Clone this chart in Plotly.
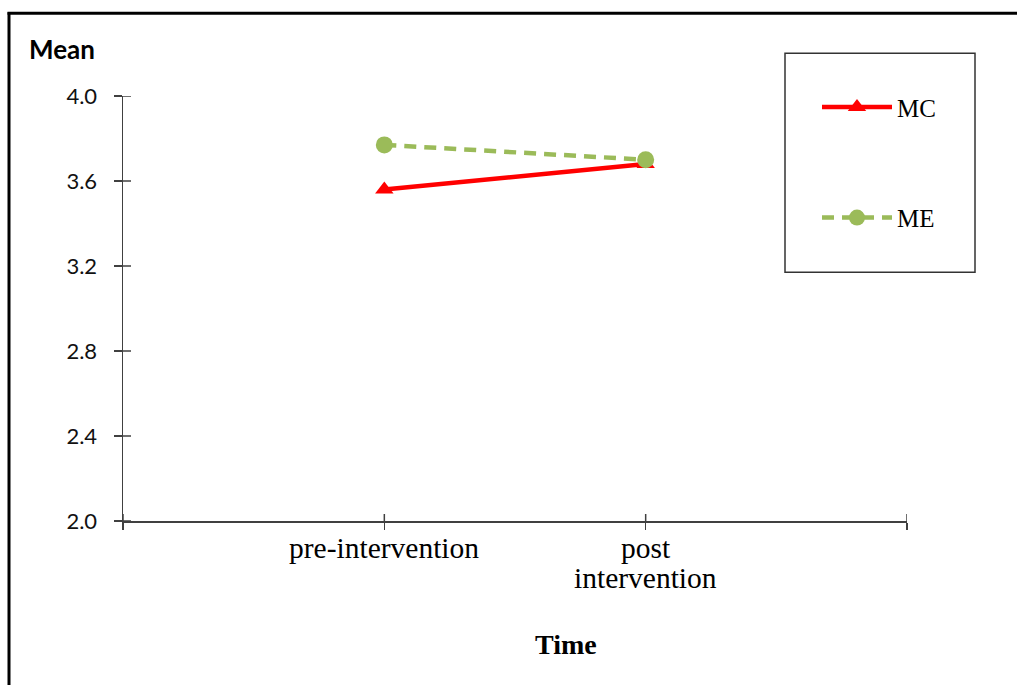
import plotly.graph_objects as go

# ---- data ----
categories = ["pre-intervention", "post<br>intervention"]
cat_pos = [1, 2]
x_tick_pos = [0, 1, 2, 3]
mc_values = [3.56, 3.68]
me_values = [3.77, 3.70]
series_names = ["MC", "ME"]
y_ticks = [2.0, 2.4, 2.8, 3.2, 3.6, 4.0]
y_tick_text = ["2.0", "2.4", "2.8", "3.2", "3.6", "4.0"]

W, H = 1017, 685
L, R = 123, 907          # plot area px
T, B = 95.7, 520.7

def px_x(p):
    return (p - L) / (R - L)

def px_y(p):
    return (B - p) / (B - T)

fig = go.Figure()

fig.add_trace(go.Scatter(
    x=cat_pos, y=mc_values, name=series_names[0], mode="lines+markers",
    line=dict(color="#FF0000", width=4.5),
    marker=dict(symbol="triangle-up", size=16, color="#FF0000"),
    legendgroup="mc",
))
fig.add_trace(go.Scatter(
    x=cat_pos, y=me_values, name=series_names[1], mode="lines+markers",
    line=dict(color="#9BBB59", width=4.5, dash="12px,8px"),
    marker=dict(symbol="circle", size=17, color="#9BBB59"),
    legendgroup="me",
))

axis_col = "#404040"
fig.update_layout(
    width=W, height=H,
    margin=dict(l=L, r=W - R, t=T, b=H - B, pad=0),
    paper_bgcolor="white", plot_bgcolor="white",
    showlegend=True,
    legend=dict(
        x=px_x(817), y=px_y(84), xanchor="left", yanchor="top",
        font=dict(family="Liberation Serif", size=25, color="black"),
        bgcolor="rgba(0,0,0,0)", borderwidth=0,
        tracegroupgap=75, itemwidth=70,
    ),
    xaxis=dict(
        range=[0, 3], tickvals=x_tick_pos, showticklabels=False,
        showgrid=False, zeroline=False, showline=True, linecolor=axis_col, linewidth=1.5,
        ticks="outside", ticklen=7, tickwidth=1.5, tickcolor=axis_col,
        fixedrange=True,
    ),
    yaxis=dict(
        range=[2.0, 4.0], tickvals=y_ticks, ticktext=y_tick_text,
        showgrid=False, zeroline=False, showline=True, linecolor=axis_col, linewidth=1.5,
        ticks="outside", ticklen=8, tickwidth=1.5, tickcolor=axis_col,
        tickfont=dict(family="Lato", size=22, color="#111111"),
        ticklabelstandoff=12, fixedrange=True,
    ),
)

# inner halves of the crossing tick marks
for yv in y_ticks:
    fig.add_shape(type="line", xref="x", yref="y", xsizemode="pixel", xanchor=0,
                  x0=0, x1=8, y0=yv, y1=yv,
                  line=dict(color=axis_col, width=1.5))
for xv in x_tick_pos:
    fig.add_shape(type="line", xref="x", yref="y", ysizemode="pixel", yanchor=2.0,
                  x0=xv, x1=xv, y0=0, y1=7,
                  line=dict(color=axis_col, width=1.5))

# category labels (tight line spacing like the original)
for pos, cat in zip(cat_pos, categories):
    for i, line in enumerate(cat.split("<br>")):
        fig.add_annotation(text=line, xref="x", yref="paper",
                           x=pos, y=px_y(548 + 29.5 * i), xanchor="center", yanchor="middle",
                           showarrow=False,
                           font=dict(family="Liberation Serif", size=29.5, color="black"))

# outer frame (left and top edges visible)
fig.add_shape(type="line", xref="paper", yref="paper",
              x0=px_x(9), x1=px_x(9), y0=px_y(12), y1=px_y(700),
              line=dict(color="black", width=3))
fig.add_shape(type="line", xref="paper", yref="paper",
              x0=px_x(7.5), x1=px_x(1030), y0=px_y(13), y1=px_y(13),
              line=dict(color="black", width=3))
# legend box
fig.add_shape(type="rect", xref="paper", yref="paper",
              x0=px_x(785), x1=px_x(975), y0=px_y(53), y1=px_y(272),
              line=dict(color="#333333", width=1.5), fillcolor="rgba(0,0,0,0)")

# texts
fig.add_annotation(text="<b>Mean</b>", xref="paper", yref="paper",
                   x=px_x(27), y=px_y(49), xanchor="left", yanchor="middle",
                   showarrow=False, font=dict(family="Lato", size=26, color="black"))
fig.add_annotation(text="<b>Time</b>", xref="paper", yref="paper",
                   x=px_x(566), y=px_y(644), xanchor="center", yanchor="middle",
                   showarrow=False, font=dict(family="Liberation Serif", size=28, color="black"))

fig.write_html("out.html",
               config={"displayModeBar": False, "staticPlot": True},
               post_script="document.body.style.margin='0';document.body.style.overflow='hidden';")
